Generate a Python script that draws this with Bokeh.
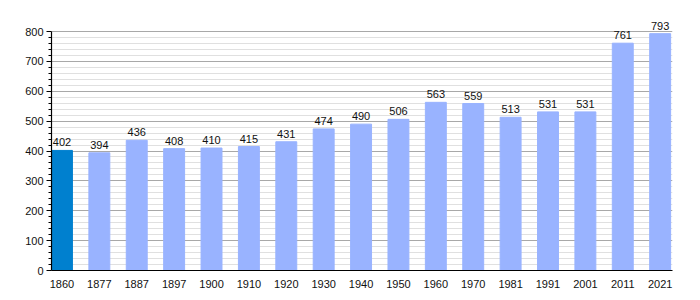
from bokeh.plotting import figure
from bokeh.models import ColumnDataSource, Range1d, FixedTicker, LabelSet
from bokeh.core.properties import value
from bokeh.embed import file_html
from bokeh.resources import INLINE

years = ["1860", "1877", "1887", "1897", "1900", "1910", "1920", "1930", "1940",
         "1950", "1960", "1970", "1981", "1991", "2001", "2011", "2021"]
population = [402, 394, 436, 408, 410, 415, 431, 474, 490, 506, 563, 559, 513, 531, 531, 761, 793]
y_ticks = [0, 100, 200, 300, 400, 500, 600, 700, 800]

xs = list(range(len(years)))
colors = ["#0080CF"] + ["#99B3FF"] * (len(years) - 1)
src = ColumnDataSource(dict(x=xs, top=population, color=colors, label=[str(v) for v in population]))

p = figure(width=700, height=300, output_backend="svg", toolbar_location=None,
           x_range=Range1d(-0.28, len(years) - 1 + 0.33), y_range=Range1d(0, 847),
           min_border_left=51, min_border_right=28, min_border_top=17, min_border_bottom=30)
p.outline_line_color = None
p.background_fill_color = "white"
p.border_fill_color = "white"

p.vbar(x="x", top="top", width=0.56, color="color", source=src)

labels = LabelSet(x="x", y="top", text="label", source=src, text_align="center",
                  text_baseline="bottom", y_offset=4, text_font_size="11px",
                  text_font=value("Liberation Sans"), text_color="#111111")
p.add_layout(labels)

p.xaxis.ticker = FixedTicker(ticks=xs)
p.xaxis.major_label_overrides = {i: y for i, y in enumerate(years)}
p.xaxis.major_tick_line_color = None
p.xaxis.minor_tick_line_color = None
p.xaxis.axis_line_color = "black"
p.xaxis.axis_line_width = 1.2
p.xaxis.major_label_text_font = "Liberation Sans"
p.xaxis.major_label_text_font_size = "11px"
p.xaxis.major_label_text_color = "#111111"
p.xaxis.major_label_standoff = 3

minor = [v for v in range(0, 801, 20) if v % 100 != 0]
p.yaxis.ticker = FixedTicker(ticks=y_ticks, minor_ticks=minor)
p.yaxis.bounds = (0, 800)
p.yaxis.axis_line_color = "black"
p.yaxis.axis_line_width = 1.2
p.yaxis.major_tick_in = 0
p.yaxis.major_tick_out = 5
p.yaxis.minor_tick_in = 0
p.yaxis.minor_tick_out = 3
p.yaxis.major_tick_line_color = "black"
p.yaxis.minor_tick_line_color = "black"
p.yaxis.major_label_text_font = "Liberation Sans"
p.yaxis.major_label_text_font_size = "11px"
p.yaxis.major_label_text_color = "#111111"
p.yaxis.major_label_standoff = 3

p.xgrid.grid_line_color = None
p.ygrid.grid_line_color = "#A8A8A8"
p.ygrid.minor_grid_line_color = "#E0E0E0"
p.ygrid.level = "underlay"

open("out.html", "w").write(file_html(p, INLINE))
